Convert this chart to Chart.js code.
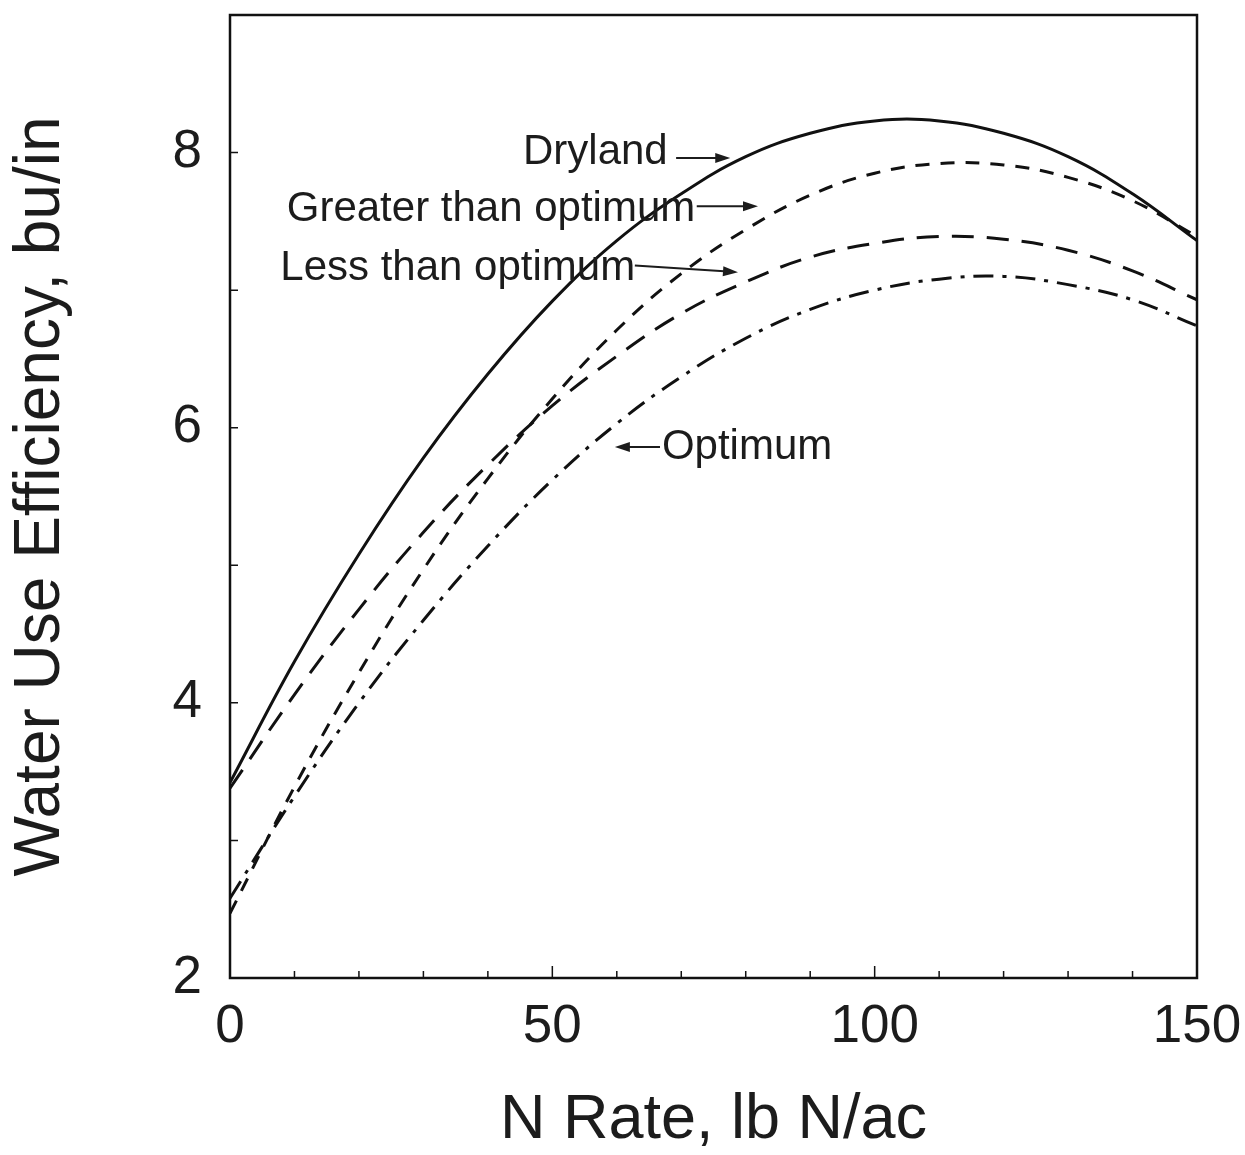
<!DOCTYPE html>
<html>
<head>
<meta charset="utf-8">
<script src="https://cdn.jsdelivr.net/npm/chart.js@4"></script>
<style>
  html, body { margin: 0; padding: 0; background: #fff; }
</style>
</head>
<body>
<canvas id="container" width="1245" height="1155"></canvas>
<script>
const ctx = document.getElementById("container");

// N rate (lb N/ac) and water use efficiency (bu/in)
const nRate = [0, 10, 20, 30, 40, 50, 60, 70, 80, 90, 100, 110, 120, 130, 140, 150];
const dryland = [3.42, 4.30, 5.08, 5.78, 6.39, 6.92, 7.36, 7.70, 7.97, 8.14, 8.23, 8.23, 8.14, 7.97, 7.70, 7.36];
const greaterThanOptimum = [2.47, 3.39, 4.22, 4.97, 5.63, 6.21, 6.71, 7.12, 7.44, 7.69, 7.85, 7.92, 7.91, 7.82, 7.65, 7.39];
const lessThanOptimum = [3.38, 4.06, 4.68, 5.24, 5.73, 6.16, 6.52, 6.83, 7.06, 7.24, 7.34, 7.39, 7.37, 7.29, 7.14, 6.93];
const optimum = [2.58, 3.32, 4.00, 4.60, 5.14, 5.62, 6.03, 6.37, 6.65, 6.86, 7.00, 7.08, 7.10, 7.04, 6.93, 6.74];

const xTicks = [0, 50, 100, 150];
const yTicks = [2, 4, 6, 8];

const seriesNames = ["Dryland", "Greater than optimum", "Less than optimum", "Optimum"];

// labels with arrows, placed in data units
const notes = [
  { text: "Dryland", at: [67.9, 8.0], align: "right", from: [69.2, 7.96], to: [77.6, 7.96] },
  { text: "Greater than optimum", at: [8.8, 7.59], align: "left", from: [72.4, 7.61], to: [81.9, 7.61] },
  { text: "Less than optimum", at: [7.8, 7.16], align: "left", from: [62.8, 7.18], to: [78.8, 7.13] },
  { text: "Optimum", at: [67.0, 5.86], align: "left", from: [66.7, 5.86], to: [59.7, 5.86] },
];

const FONT = "'Liberation Sans', Arial, sans-serif";
const INK = "#1c1c1c";

const toPoints = (ys) => ys.map((v, i) => ({ x: nRate[i], y: v }));

const dashes = [[], [14, 11], [22, 13], [20, 9, 4, 9]];
const values = [dryland, greaterThanOptimum, lessThanOptimum, optimum];
const datasets = [];
for (let i = 0; i < values.length; i++) {
  datasets.push({
    label: seriesNames[i],
    data: toPoints(values[i]),
    borderColor: "#111",
    borderWidth: 3,
    borderDash: dashes[i],
    pointRadius: 0,
    fill: false,
    tension: 0.4,
  });
}

const framePlugin = {
  id: "frame",
  afterDatasetsDraw(chart) {
    const { ctx, chartArea: a, scales: { x, y } } = chart;
    ctx.save();
    ctx.strokeStyle = "#111";
    ctx.lineWidth = 2.5;
    ctx.strokeRect(a.left, a.top, a.right - a.left, a.bottom - a.top);

    // small inward ticks
    ctx.lineWidth = 1.5;
    ctx.beginPath();
    for (let v = 10; v < 150; v += 10) {
      const px = x.getPixelForValue(v);
      const len = v % 50 === 0 ? 12 : 7;
      ctx.moveTo(px, a.bottom);
      ctx.lineTo(px, a.bottom - len);
    }
    for (let v = 3; v < 9; v++) {
      const py = y.getPixelForValue(v);
      ctx.moveTo(a.left, py);
      ctx.lineTo(a.left + 8, py);
    }
    ctx.stroke();

    // annotations
    ctx.fillStyle = INK;
    ctx.strokeStyle = INK;
    ctx.font = `42px ${FONT}`;
    ctx.textBaseline = "middle";
    notes.forEach((n) => {
      ctx.textAlign = n.align;
      ctx.fillText(n.text, x.getPixelForValue(n.at[0]), y.getPixelForValue(n.at[1]));
      const x1 = x.getPixelForValue(n.from[0]), y1 = y.getPixelForValue(n.from[1]);
      const x2 = x.getPixelForValue(n.to[0]), y2 = y.getPixelForValue(n.to[1]);
      const ang = Math.atan2(y2 - y1, x2 - x1);
      ctx.lineWidth = 2;
      ctx.beginPath();
      ctx.moveTo(x1, y1);
      ctx.lineTo(x2 - 10 * Math.cos(ang), y2 - 10 * Math.sin(ang));
      ctx.stroke();
      ctx.beginPath();
      ctx.moveTo(x2, y2);
      ctx.lineTo(x2 - 15 * Math.cos(ang) + 5 * Math.sin(ang), y2 - 15 * Math.sin(ang) - 5 * Math.cos(ang));
      ctx.lineTo(x2 - 15 * Math.cos(ang) - 5 * Math.sin(ang), y2 - 15 * Math.sin(ang) + 5 * Math.cos(ang));
      ctx.closePath();
      ctx.fill();
    });
    ctx.restore();
  },
};

const myChart = new Chart(ctx, {
  type: "line",
  data: { datasets: datasets },
  plugins: [framePlugin],
  options: {
    responsive: false,
    animation: false,
    layout: { padding: { top: 15, right: 48, bottom: 0, left: 0 } },
    plugins: {
      legend: { display: false },
      tooltip: { enabled: false },
    },
    scales: {
      x: {
        type: "linear",
        min: 0,
        max: 150,
        afterBuildTicks: (s) => { s.ticks = xTicks.map((v) => ({ value: v })); },
        afterFit: (s) => {
          s.height = 177;
          s.paddingLeft = 0;
          s.paddingRight = 0;
        },
        grid: { display: false, drawTicks: false },
        border: { display: false },
        ticks: { font: { family: FONT, size: 53 }, color: INK, padding: 18, maxRotation: 0 },
        title: {
          display: true,
          text: "N Rate, lb N/ac",
          font: { family: FONT, size: 63 },
          color: INK,
          padding: { top: 0, bottom: -3 },
        },
      },
      y: {
        type: "linear",
        min: 2,
        max: 9,
        afterBuildTicks: (s) => { s.ticks = yTicks.map((v) => ({ value: v })); },
        afterFit: (s) => {
          s.width = 230;
          s.paddingTop = 0;
          s.paddingBottom = 0;
        },
        grid: { display: false, drawTicks: false },
        border: { display: false },
        ticks: { font: { family: FONT, size: 53 }, color: INK, padding: 28 },
        title: {
          display: true,
          text: "Water Use Efficiency, bu/in",
          font: { family: FONT, size: 64 },
          color: INK,
          padding: { top: 3, bottom: 0 },
        },
      },
    },
  },
});
</script>
</body>
</html>
